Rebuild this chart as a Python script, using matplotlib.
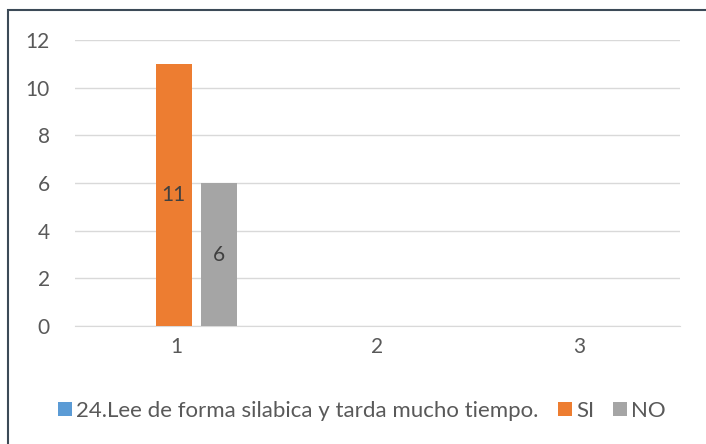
import matplotlib
matplotlib.use("Agg")
import matplotlib.pyplot as plt
from matplotlib.patches import Rectangle
import numpy as np

categories = ["1", "2", "3"]
series_names = ["24.Lee de forma silabica y tarda mucho tiempo.", "SI", "NO"]
series_values = [
    [np.nan, np.nan, np.nan],
    [11, np.nan, np.nan],
    [6, np.nan, np.nan],
]
colors = ["#5b9bd5", "#ed7d31", "#a5a5a5"]
yticks = [0, 2, 4, 6, 8, 10, 12]

plt.rcParams['font.family'] = ['Lato', 'DejaVu Sans']

fig = plt.figure(figsize=(7.06, 4.44), dpi=100)
ax = fig.add_axes([75/706, 118/444, 605/706, 286/444])

x = np.arange(len(categories))
width = 0.178
offsets = [-0.233, -0.01, 0.213]
for name, vals, c, off in zip(series_names, series_values, colors, offsets):
    v = np.array(vals, dtype=float)
    ax.bar(x + off, np.nan_to_num(v), width, color=c, label=name, zorder=3)
    for xi, val in zip(x, v):
        if not np.isnan(val):
            ax.text(xi + off, val / 2, f"{int(val)}", ha="center", va="center",
                    fontsize=15, color="#404040", zorder=4)

ax.set_xlim(-0.5, 2.5)
ax.set_ylim(0, 12)
ax.set_yticks(yticks)
ax.set_xticks(x)
ax.set_xticklabels(categories)
ax.tick_params(axis="both", length=0, labelsize=15, labelcolor="#595959")
ax.tick_params(axis="y", pad=18)
ax.tick_params(axis="x", pad=8)
ax.grid(axis="y", color="#d9d9d9", linewidth=1, zorder=0)
for s in ["top", "right", "left"]:
    ax.spines[s].set_visible(False)
ax.spines["bottom"].set_color("#d9d9d9")

handles, labels = ax.get_legend_handles_labels()
leg = fig.legend(handles, labels, loc="center", bbox_to_anchor=(362/706, 1 - 411/444),
           ncol=3, frameon=False, handlelength=0.63, handleheight=0.63,
           handletextpad=0.18, columnspacing=0.86, labelcolor="#595959",
           prop={"family": ["Lato", "DejaVu Sans"], "size": 16})

fig.patches.append(Rectangle((8/706, -0.1), 1.0, 1 - 10/444 + 0.1, transform=fig.transFigure,
                             fill=False, edgecolor="#3c4a57", linewidth=1.5))

fig.savefig("out.png", dpi=100)
